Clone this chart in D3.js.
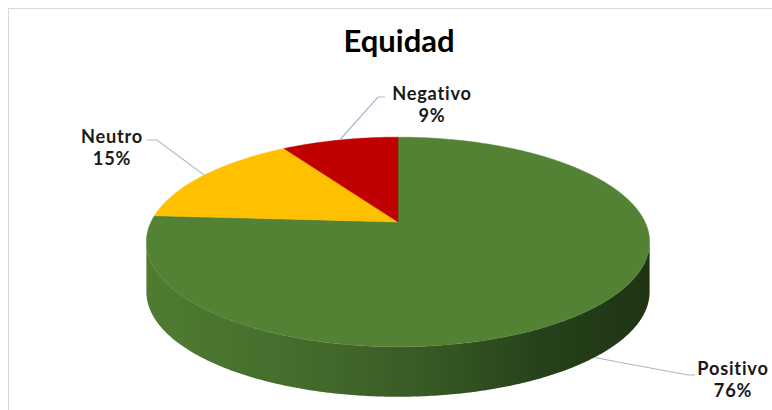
<!DOCTYPE html>
<html><head><meta charset="utf-8">
<script src="https://cdn.jsdelivr.net/npm/d3@7"></script>
<style>html,body{margin:0;padding:0;background:#fff;}svg{display:block;}</style>
</head><body>
<script>
const categories = ["Positivo", "Neutro", "Negativo"];
const values = [76, 15, 9];
const percentLabels = ["76%", "15%", "9%"];
const colors = ["#548235", "#FFC000", "#C00000"];

const W = 772, H = 410;
const svg = d3.select("body").append("svg").attr("width", W).attr("height", H);

// chart frame
svg.append("rect").attr("x", 8.5).attr("y", 8.5).attr("width", 900).attr("height", 600)
  .attr("fill", "#fff").attr("stroke", "#d9d9d9").attr("stroke-width", 1);

svg.append("text").attr("x", 399).attr("y", 52).attr("text-anchor", "middle")
  .attr("font-family", "Lato, 'Open Sans', sans-serif").attr("font-weight", "bold")
  .attr("font-size", 31).attr("fill", "#000").text("Equidad");

// 3D perspective projection of the pie disc
const cx = 398, cy = 222, rx = 247, ry = 101, dPersp = 5.25, depth = 50;
function proj(theta, off) {
  const x = Math.sin(theta), z = Math.cos(theta);
  const s = dPersp / (dPersp + z);
  return [cx + rx * x * s, cy - ry * z * s + (off || 0)];
}

const pie = d3.pie().sort(null).value(d => d)(values);

// visible side range: where projected x is extremal
let visStart = 0, visEnd = 0, minX = Infinity, maxX = -Infinity;
for (let i = 0; i <= 3600; i++) {
  const t = i / 3600 * 2 * Math.PI;
  const p = proj(t);
  if (p[0] < minX) { minX = p[0]; visEnd = t; }
  if (p[0] > maxX) { maxX = p[0]; visStart = t; }
}

const defs = svg.append("defs");
const grad = defs.append("linearGradient").attr("id", "sideGrad")
  .attr("gradientUnits", "userSpaceOnUse")
  .attr("x1", minX).attr("x2", maxX).attr("y1", 0).attr("y2", 0);
[[0, "#4f7c31"], [0.3, "#456c2c"], [0.55, "#385a25"], [0.8, "#25401a"], [1, "#1f3414"]]
  .forEach(([o, c]) => grad.append("stop").attr("offset", o).attr("stop-color", c));

function arcPoints(a0, a1, off) {
  const n = Math.max(2, Math.ceil((a1 - a0) / 0.01));
  const pts = [];
  for (let i = 0; i <= n; i++) pts.push(proj(a0 + (a1 - a0) * i / n, off));
  return pts;
}

const gSide = svg.append("g");
pie.forEach((p, i) => {
  const a0 = Math.max(p.startAngle, visStart), a1 = Math.min(p.endAngle, visEnd);
  if (a1 <= a0) return;
  const top = arcPoints(a0, a1, 0);
  const bot = arcPoints(a0, a1, depth).reverse();
  gSide.append("path").attr("d", d3.line()(top.concat(bot)) + "Z")
    .attr("fill", i === 0 ? "url(#sideGrad)" : d3.color(colors[i]).darker(1.2));
});

const gTop = svg.append("g");
pie.forEach((p, i) => {
  const pts = [[cx, cy]].concat(arcPoints(p.startAngle, p.endAngle, 0));
  gTop.append("path").attr("d", d3.line()(pts) + "Z").attr("fill", colors[i])
    .attr("stroke", colors[i]).attr("stroke-width", 0.5);
});

// labels and leader lines
const labelPos = [
  { x: 733, y: 375, elbow: [[688, 375], [695, 375]] },
  { x: 112, y: 143, elbow: [[157, 140], [147, 140]] },
  { x: 432, y: 100, elbow: [[378, 97], [385, 97]] }
];
const gLab = svg.append("g");
pie.forEach((p, i) => {
  const mid = (p.startAngle + p.endAngle) / 2;
  const anchor = proj(mid, Math.cos(mid) < 0 ? depth : 0);
  const L = labelPos[i];
  gLab.append("path").attr("d", d3.line()([anchor].concat(L.elbow)))
    .attr("fill", "none").attr("stroke", "#a9b8cc").attr("stroke-width", 1.2);
  [categories[i], percentLabels[i]].forEach((txt, k) => {
    gLab.append("text").attr("text-anchor", "middle")
      .attr("x", L.x).attr("y", L.y + k * 22)
      .attr("font-family", "Lato, 'Open Sans', sans-serif").attr("font-weight", "bold")
      .attr("font-size", 18.2).attr("letter-spacing", 0.8).attr("fill", "#1a1a1a")
      .text(txt);
  });
});
</script>
</body></html>
